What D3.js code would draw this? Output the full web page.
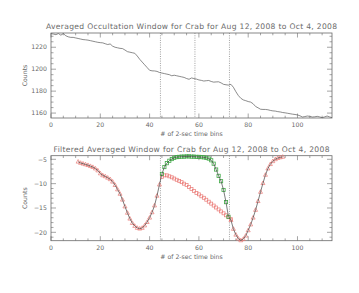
<!DOCTYPE html>
<html>
<head>
<meta charset="utf-8">
<script src="https://cdn.jsdelivr.net/npm/d3@7"></script>
<style>
  body { margin: 0; background: #fff; }
  text { font-family: "DejaVu Sans", sans-serif; fill: #6a6a6a; }
</style>
</head>
<body>
<div id="chart"></div>
<script>
// top panel: averaged window, one value per 2-sec bin starting at bin 0
var avgCounts = [1232.5, 1232, 1231.5, 1232.5, 1231, 1232.5, 1230.5, 1229.5, 1229, 1229,
  1228.5, 1228, 1227.5, 1227, 1226.8, 1226.5, 1226, 1225.5, 1225, 1224.5,
  1224.2, 1224, 1223.2, 1222.5, 1223, 1221, 1220, 1219.5, 1219, 1218.8,
  1217.5, 1216, 1215.5, 1215, 1214.5, 1212, 1209, 1206.5, 1204, 1201.5,
  1199, 1198.5, 1198.4, 1198, 1197, 1196.5, 1196, 1195.5, 1195, 1194,
  1194.5, 1194, 1193.5, 1193, 1192.5, 1191.5, 1190.8, 1192, 1191.5, 1191,
  1190.2, 1189.8, 1189.2, 1189.5, 1189.7, 1188.8, 1188.2, 1188.4, 1188.5, 1187.5,
  1186.2, 1185.8, 1185.5, 1186.2, 1183.5, 1179.5, 1176, 1173.5, 1172, 1171.3,
  1170.5, 1170, 1168.5, 1166, 1164.8, 1163.5, 1163.3, 1163.3, 1163, 1162.4,
  1162, 1161.8, 1161.3, 1161, 1160.5, 1160.2, 1159.8, 1159.4, 1159, 1158.7,
  1158.3, 1157.5, 1156.4, 1156.8, 1157.3, 1157, 1156.4, 1156.6, 1157, 1156.5,
  1155.8, 1156.5, 1157.3, 1156.5, 1155.8];

// bottom panel: filtered window
var ingressStart = 11;   // first red triangle bin
var ingress = [-5.5, -5.75, -5.9, -6.05, -6.2, -6.4, -6.6, -6.9, -7.3, -7.9,
  -8.3, -8.5, -8.8, -9.1, -9.6, -10.3, -11.2, -12.1, -13.3, -14.7,
  -16.0, -17.2, -18.1, -18.7, -19.1, -19.25, -19.1, -18.6, -17.9, -17.0,
  -15.9, -14.5, -12.5, -10.2];
var occStart = 45;       // green points
var occulted = [-8.0, -6.6, -5.8, -5.3, -4.95, -4.7, -4.55, -4.5, -4.45, -4.45,
  -4.4, -4.4, -4.45, -4.45, -4.5, -4.5, -4.55, -4.6, -4.7, -4.85,
  -5.2, -5.9, -7.1, -8.4, -9.5, -11.3, -13.8, -16.8];
var rampStart = 45;      // red squares
var ramp = [-8.6, -8.3, -8.3, -8.5, -8.7, -8.95, -9.2, -9.45, -9.7, -10.0,
  -10.3, -10.7, -11.1, -11.5, -11.9, -12.2, -12.6, -12.9, -13.3, -13.7,
  -14.1, -14.5, -14.9, -15.3, -15.7, -16.1, -16.5, -16.9, -17.3];
var egressStart = 73;    // red triangles after
var egress = [-17.5, -19.3, -20.5, -21.3, -21.65, -21.4, -20.7, -19.6, -18.4, -17.0,
  -15.4, -13.6, -11.7, -9.9, -8.2, -6.9, -6.0, -5.4, -5.0, -4.75,
  -4.6, -4.5];

var windowMarks = [44.4, 58.4, 72.4];
var xTicks = [0, 20, 40, 60, 80, 100];
var topTicks = [1160, 1180, 1200, 1220];
var botTicks = [-20, -15, -10, -5];

var titleTop = "Averaged Occultation Window for Crab for Aug 12, 2008 to Oct 4, 2008";
var titleBot = "Filtered Averaged Window for Crab for Aug 12, 2008 to Oct 4, 2008";
var xTitle = "# of 2-sec time bins";

var width = 359, height = 293;
var left = 51, right = 332;
var axisCol = "#6a6a6a";

var svg = d3.select("#chart").append("svg")
    .attr("width", width)
    .attr("height", height);

var x = d3.scaleLinear().domain([0, 114]).range([left, right]);

function toPts(start, vals) {
  return vals.map(function(v, i) { return [start + i, v]; });
}

function panel(top, bottom, yDomain, yMajor, yMinorStep, title, titleLen) {
  var y = d3.scaleLinear().domain(yDomain).range([bottom, top]);
  var g = svg.append("g");

  var xMinor = d3.range(0, 115, 5);
  var yMinor = d3.range(Math.ceil(yDomain[0] / yMinorStep) * yMinorStep, yDomain[1], yMinorStep);

  // ticks on all four sides, pointing in
  xMinor.forEach(function(d) {
    var len = d % 20 === 0 ? 4.5 : 2.3;
    g.append("line").attr("x1", x(d)).attr("x2", x(d)).attr("y1", bottom).attr("y2", bottom - len)
      .attr("stroke", axisCol).attr("stroke-width", 0.6);
    g.append("line").attr("x1", x(d)).attr("x2", x(d)).attr("y1", top).attr("y2", top + len)
      .attr("stroke", axisCol).attr("stroke-width", 0.6);
  });
  yMinor.forEach(function(d) {
    var major = yMajor.indexOf(d) >= 0;
    var len = major ? 5 : 2.5;
    g.append("line").attr("x1", left).attr("x2", left + len).attr("y1", y(d)).attr("y2", y(d))
      .attr("stroke", axisCol).attr("stroke-width", 0.6);
    g.append("line").attr("x1", right).attr("x2", right - len).attr("y1", y(d)).attr("y2", y(d))
      .attr("stroke", axisCol).attr("stroke-width", 0.6);
  });

  g.append("rect")
    .attr("x", left).attr("y", top)
    .attr("width", right - left).attr("height", bottom - top)
    .attr("fill", "none").attr("stroke", axisCol).attr("stroke-width", 0.8);

  g.selectAll(".xl").data(xTicks).enter().append("text")
    .attr("x", x).attr("y", bottom + 9)
    .attr("text-anchor", "middle").attr("font-size", 6.2)
    .text(function(d) { return d; });

  g.selectAll(".yl").data(yMajor).enter().append("text")
    .attr("x", left - 4).attr("y", function(d) { return y(d) + 2.2; })
    .attr("text-anchor", "end").attr("font-size", 6.2)
    .text(function(d) { return d < 0 ? "\u2212" + (-d) : d; });

  g.append("text")
    .attr("x", (left + right) / 2).attr("y", top - 4)
    .attr("text-anchor", "middle").attr("font-size", 7.6)
    .attr("textLength", titleLen).attr("lengthAdjust", "spacing")
    .text(title);

  g.append("text")
    .attr("x", (left + right) / 2).attr("y", bottom + 18)
    .attr("text-anchor", "middle").attr("font-size", 6.2)
    .text(xTitle);

  g.append("text")
    .attr("transform", "translate(" + (left - 24) + "," + ((top + bottom) / 2) + ") rotate(-90)")
    .attr("text-anchor", "middle").attr("font-size", 6.2)
    .text("Counts");

  return {g: g, y: y, top: top, bottom: bottom};
}

// ---- top panel
var p1 = panel(33, 118, [1155.5, 1233], topTicks, 5, titleTop, 291);

p1.g.selectAll(".vm").data(windowMarks).enter().append("line")
  .attr("x1", x).attr("x2", x).attr("y1", p1.top).attr("y2", p1.bottom)
  .attr("stroke", "#777").attr("stroke-width", 0.7).attr("stroke-dasharray", "1,1.3");

p1.g.append("path")
  .datum(toPts(0, avgCounts))
  .attr("fill", "none").attr("stroke", "#5a5a5a").attr("stroke-width", 0.7)
  .attr("d", d3.line().x(function(d) { return x(d[0]); }).y(function(d) { return p1.y(d[1]); }));

// ---- bottom panel
var p2 = panel(155.7, 240.7, [-21.72, -4.26], botTicks, 1, titleBot, 276);

p2.g.selectAll(".vm").data([windowMarks[0], windowMarks[2]]).enter().append("line")
  .attr("x1", x).attr("x2", x).attr("y1", p2.top).attr("y2", p2.bottom)
  .attr("stroke", "#777").attr("stroke-width", 0.7).attr("stroke-dasharray", "1,1.3");

var lineB = d3.line().x(function(d) { return x(d[0]); }).y(function(d) { return p2.y(d[1]); });
var red = "#ea7a76", green = "#3fa845";

var triPts = toPts(ingressStart, ingress).concat(toPts(egressStart, egress));
var fitPts = toPts(ingressStart, ingress).concat(toPts(occStart, occulted), toPts(egressStart, egress));

// red squares, no line
p2.g.selectAll(".sq").data(toPts(rampStart, ramp)).enter().append("rect")
  .attr("x", function(d) { return x(d[0]) - 1.5; })
  .attr("y", function(d) { return p2.y(d[1]) - 1.5; })
  .attr("width", 3).attr("height", 3)
  .attr("fill", "none").attr("stroke", red).attr("stroke-width", 0.7);

p2.g.selectAll(".tri").data(triPts).enter().append("path")
  .attr("transform", function(d) { return "translate(" + x(d[0]) + "," + p2.y(d[1]) + ")"; })
  .attr("d", "M0,-2.2L2,1.4L-2,1.4Z")
  .attr("fill", "none").attr("stroke", red).attr("stroke-width", 0.7);

p2.g.selectAll(".gr").data(toPts(occStart, occulted)).enter().append("rect")
  .attr("x", function(d) { return x(d[0]) - 1.6; })
  .attr("y", function(d) { return p2.y(d[1]) - 1.6; })
  .attr("width", 3.2).attr("height", 3.2)
  .attr("fill", "none").attr("stroke", green).attr("stroke-width", 0.8);

p2.g.append("path")
  .datum(fitPts)
  .attr("fill", "none").attr("stroke", "#444").attr("stroke-width", 0.7)
  .attr("d", lineB);
</script>
</body>
</html>
